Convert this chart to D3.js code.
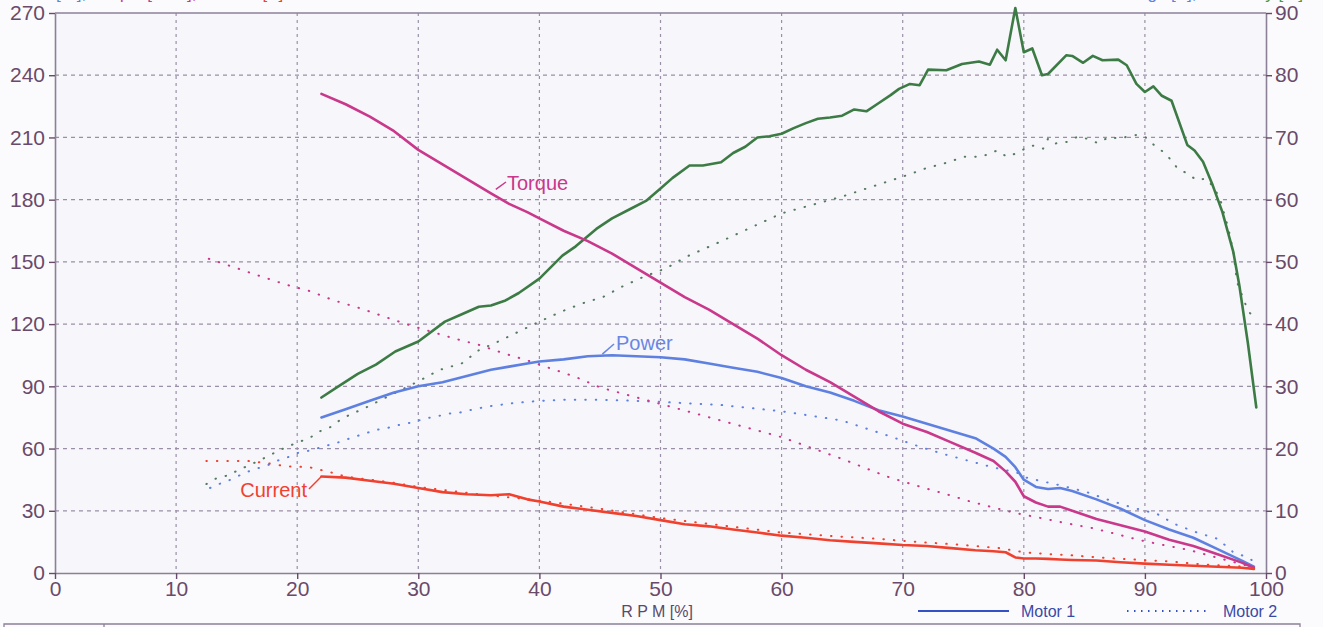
<!DOCTYPE html>
<html><head><meta charset="utf-8">
<script src="https://cdn.jsdelivr.net/npm/d3@7"></script>
<style>
html,body{margin:0;padding:0;background:#fbfbfd;}
svg{display:block;font-family:"Liberation Sans",Arial,sans-serif;}
</style></head>
<body><svg id="c" width="1323" height="627"></svg>
<script>
// ---------- DATA ----------
const xTicks = [0,10,20,30,40,50,60,70,80,90,100];
const yLeftTicks = [0,30,60,90,120,150,180,210,240,270];
const yRightTicks = [0,10,20,30,40,50,60,70,80,90];

// Motor 1 (solid)
const rpm1 = [22,24,26,28,30,32,34,36,37.5,39,40,42,44,46,48,50,52,54,56,58,60,62,64,66,68,70,72,74,76,77.5,78.5,79.3,80,81,82,83,84,86,88,90,92,94,96,98,99];
const torque1 = [231,226,220,213,204,197,190,183,178,174,171,165,160,154,147,140,133,127,120,113,105,98,92,85,78,72,68,63,58,54,49,44,37,34,32,32,30,26,23,20,16,13,9,5,2.5];
const power1 = [75,79,83,87,90,92,95,98,99.5,101,102,103,104.5,105,104.5,104,103,101,99,97,94,90,87,83,78.5,75.5,72,68.5,65,60,56,51,45,41.5,40.5,41,39.5,35.5,31,25.5,21,17,11.5,6,3];
const current1 = [46.5,46,44.5,43,41,39,38,37.5,38,35.5,34.5,32,30.5,29,27.5,25.5,23.5,22.5,21,19.5,18,17,15.8,15,14.3,13.5,13,12,11,10.5,10,7.5,7,7,6.8,6.5,6.3,6,5.2,4.5,4,3.5,3,2.5,2];
const rpmEff1 = [22,23.4,25,26.5,28.1,30,32.2,33.5,35,36,37.2,38.3,40,41.9,43,44.7,46,47.5,48.8,50,51,52.4,53.5,55,56,57,58,59,60,61,62,63,64,65,66,67,68,69,69.7,70.6,71.4,72.1,73.6,74.9,76.3,77.2,77.8,78.5,79.3,80,80.7,81.5,82,83.5,84,84.9,85.7,86.5,87.8,88.5,89.3,90,90.7,91.4,92.2,93.5,94.1,94.8,95.6,96.4,97.3,97.8,98.5,99.2];
const eff1 = [28.2,30,32,33.5,35.6,37.2,40.4,41.5,42.8,43,43.8,45,47.3,51,52.5,55.3,57,58.5,59.8,61.8,63.5,65.5,65.5,66,67.5,68.5,70,70.2,70.6,71.5,72.3,73,73.2,73.5,74.5,74.2,75.5,76.8,77.8,78.6,78.4,80.9,80.8,81.8,82.2,81.7,84.1,82.4,90.8,83.7,84.3,80,80.2,83.2,83.1,82,83.1,82.4,82.5,81.6,78.6,77.3,78.2,76.7,75.9,68.8,67.9,66.1,62.3,58,51.6,46.2,37,26.6];

// Motor 2 (dotted)
const rpmCur2 = [12.5,14,16,17.5,19,21,22.8,24,26,28,30,35,40,45,50,55,60,65,68,70,75,78,80,81,84,87,90,92,95,98.5];
const current2 = [54,54,54,53,51.5,51,48.5,46.5,45,43.5,41.5,38,35,31,26.5,23,19.5,17.5,16.5,15.5,13.5,12,10,9.5,8.5,7.2,6.2,5.6,4,3];
const rpmTor2 = [12.7,15,17,19.1,21,23,25,27,29,31,33,35,37,39,41,43,45,50,55,60,65,68.7,71.6,73.6,75.5,77.4,79.4,81.5,83.5,85.7,87.7,89.6,91.6,93.7,95.6,97.5,98.8];
const torque2 = [151.5,147,143,139,136,131.5,128,124,120,116.5,113,110,106,102.5,98.5,94.5,89.5,81.5,73.5,65.5,55,46.5,41.3,38,34.6,31.7,28.8,26.4,24,21.6,18.7,15.8,13.4,11,8,5,3];
const rpmPow2 = [12.8,13.6,14.5,15.4,16.4,17.4,18.3,19.3,20.1,21,22.8,23.7,24.6,25.5,26.5,27.5,28.5,29.4,30.6,31.5,32.7,33.6,34.6,36,38,40,42,45,48,50,55,60,65,68.9,71.6,73.6,75.5,77.4,79.4,80.2,81.3,83.2,85.2,87.1,89,91,92.5,94.3,96,97.3,98.5,99];
const power2 = [41,43,45,47.5,50,51.5,54,56,58,59,62,63.5,65.5,67,69,70,71.5,72.5,74.5,75.5,77,77.5,79,80.5,82,83,83.5,83.5,83,82.5,81,78,73.5,66,60.5,57,54,51,48.5,46,44.5,42,39,35,31.5,28.5,23.5,19.5,16.5,10,7.5,5.5];
const rpmEff2 = [12.5,13.3,14.3,15.1,16,16.8,17.6,18.4,19.3,20.1,21.1,21.9,22.7,23.4,24.2,25,25.9,26.7,30,31.7,33.6,35,36.6,38.3,40,41.8,43.5,45.3,46.8,48.6,50.5,52.1,55,60,65,70.3,72,73.4,75.1,76.5,77.8,78.6,79.3,80.1,80.7,81.6,82,82.5,83.6,84.4,85.2,86.1,87.1,87.8,88.5,89.3,90,90.8,91.5,92.2,92.7,93.5,94.3,95,95.6,96.2,96.9,97.3,97.6,98.5,99];
const eff2 = [14.3,15.2,15.7,16.5,17.3,18,18.8,19.6,20.4,21,21.8,22.8,23.4,24.4,25.3,26,26.8,27.6,30.8,32.6,33.7,35.8,37.2,38.8,40.4,42,43.3,44.4,46,47.6,49,50.8,53.3,57.8,60.5,63.9,65.1,65.8,66.9,66.9,67.9,66.9,67.4,68.2,68.7,68.2,69.8,69,69.3,70.1,69.8,69.1,70.1,69.8,70.1,70.4,70.1,68.7,67.7,66.3,65,64.2,63.1,63.4,62.2,60.2,55.3,51.7,46.8,42.2,41];

// ---------- DRAW ----------
const svg = d3.select("#c");
const L = 55, R = 1266, T = 13, B = 573;
const x = d3.scaleLinear().domain([0,100]).range([L,R]);
const yL = d3.scaleLinear().domain([0,270]).range([B,T]);
const yR = d3.scaleLinear().domain([0,90]).range([B,T]);

const axisCol = "#8c8098", labelCol = "#6a4a6a", gridCol = "#9b8fa8";
const C = {cur:"#f0412f", tor:"#c9388a", pow:"#5e80e0", eff:"#3d7b45", eff2:"#557a5e"};

svg.append("rect").attr("x",L).attr("y",T).attr("width",R-L).attr("height",B-T).attr("fill","#f6f6fb");

// top axis titles (mostly cut off by the top edge)
const tl = svg.append("text").attr("x",3).attr("y",-1).style("font-size","17px");
tl.append("tspan").attr("fill","#5e80e0").text("Power [W], ");
tl.append("tspan").attr("fill",C.tor).text("Torque [Ncm], ");
tl.append("tspan").attr("fill",C.cur).text("Current [A]");
const tr = svg.append("text").attr("x",1303).attr("y",-1).attr("text-anchor","end").style("font-size","17px");
tr.append("tspan").attr("fill","#5e80e0").text("Voltage [V], ");
tr.append("tspan").attr("fill","#3d9b45").text("Efficiency [%]");

// grid
const g = svg.append("g");
g.selectAll(".gx").data(xTicks.slice(1,-1)).join("line")
  .attr("x1",d=>x(d)).attr("x2",d=>x(d)).attr("y1",T).attr("y2",B)
  .attr("stroke",gridCol).attr("stroke-width",1.2).attr("stroke-dasharray","3,4");
g.selectAll(".gy").data(yLeftTicks.slice(1,-1)).join("line")
  .attr("x1",L).attr("x2",R).attr("y1",d=>yL(d)).attr("y2",d=>yL(d))
  .attr("stroke",gridCol).attr("stroke-width",1.2).attr("stroke-dasharray","4,4");

// axes
function styleAxis(sel){
  sel.select(".domain").attr("stroke",axisCol).attr("stroke-width",1.6);
  sel.selectAll(".tick line").attr("stroke",labelCol).attr("stroke-width",1.4);
  sel.selectAll(".tick text").attr("fill",labelCol).style("font-size","21px").style("font-family","'Liberation Sans',Arial,sans-serif");
}
svg.append("g").attr("transform",`translate(${L},0)`)
  .call(d3.axisLeft(yL).tickValues(yLeftTicks).tickSize(6).tickSizeOuter(0).tickPadding(4))
  .call(styleAxis);
svg.append("g").attr("transform",`translate(${R},0)`)
  .call(d3.axisRight(yR).tickValues(yRightTicks).tickSize(6).tickSizeOuter(0).tickPadding(3))
  .call(styleAxis);
svg.append("g").attr("transform",`translate(0,${B})`)
  .call(d3.axisBottom(x).tickValues(xTicks).tickSize(6).tickSizeOuter(0).tickPadding(2))
  .call(styleAxis);
svg.append("line").attr("x1",L).attr("x2",R).attr("y1",T).attr("y2",T).attr("stroke",axisCol).attr("stroke-width",1.6);

// lines
function pts(xs, ys){ return xs.map((v,i)=>[v, ys[i]]); }
const lineL = d3.line().x(d=>x(d[0])).y(d=>yL(d[1]));
const lineR = d3.line().x(d=>x(d[0])).y(d=>yR(d[1]));
function draw(data, gen, col, dotted){
  svg.append("path").datum(data).attr("d",gen).attr("fill","none")
    .attr("stroke",col).attr("stroke-width",dotted?2:2.6)
    .attr("stroke-linejoin","round").attr("stroke-linecap","round")
    .attr("stroke-dasharray",dotted?"0.5,10":null);
}
draw(pts(rpmEff2,eff2), lineR, C.eff2, true);
draw(pts(rpmPow2,power2), lineL, C.pow, true);
draw(pts(rpmTor2,torque2), lineL, C.tor, true);
draw(pts(rpmCur2,current2), lineL, C.cur, true);
draw(pts(rpmEff1,eff1), lineR, C.eff, false);
draw(pts(rpm1,power1), lineL, C.pow, false);
draw(pts(rpm1,torque1), lineL, C.tor, false);
draw(pts(rpm1,current1), lineL, C.cur, false);

// series labels with leaders
function label(txt, col, tx, ty, x1, y1, x2, y2, anchor){
  svg.append("line").attr("x1",x1).attr("y1",y1).attr("x2",x2).attr("y2",y2).attr("stroke",col).attr("stroke-width",1.5);
  svg.append("text").attr("x",tx).attr("y",ty).attr("fill",col).attr("text-anchor",anchor||"start")
    .style("font-size","20px").text(txt);
}
label("Torque", C.tor, 507, 190, x(36.4), yL(185), 506, 182);
label("Power", "#6a86e2", 616, 350, x(45.2), yL(105.5), 614, 344);
label("Current", C.cur, 307, 497, 309, 489, x(22), yL(46.5), "end");

// x title
svg.append("text").attr("x",657).attr("y",617).attr("text-anchor","middle").attr("fill","#5a4a6a")
  .style("font-size","16px").text("R P M [%]");

// legend
svg.append("line").attr("x1",918).attr("x2",1009).attr("y1",611).attr("y2",611).attr("stroke","#3552c4").attr("stroke-width",2.2);
svg.append("text").attr("x",1021).attr("y",617).attr("fill","#3a4aa6").style("font-size","16px").text("Motor 1");
svg.append("line").attr("x1",1127).attr("x2",1210).attr("y1",611).attr("y2",611).attr("stroke","#3552c4").attr("stroke-width",2).attr("stroke-dasharray","1.5,5.5");
svg.append("text").attr("x",1223).attr("y",617).attr("fill","#3a4aa6").style("font-size","16px").text("Motor 2");

// bottom frame
svg.append("path").attr("d","M4,627 V624 H1300 V627 M104,624 V627").attr("fill","none").attr("stroke","#8c8098").attr("stroke-width",1.3);
</script></body></html>
